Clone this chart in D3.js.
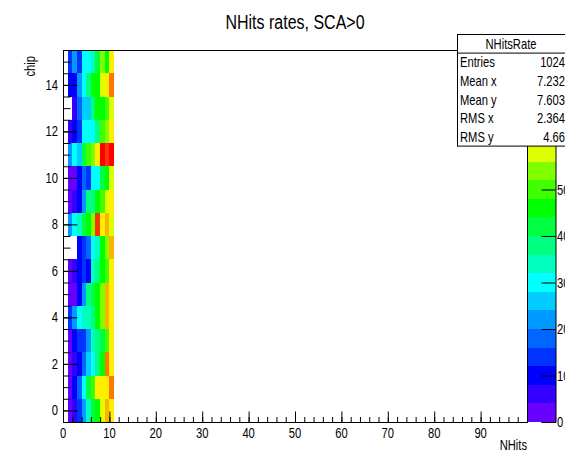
<!DOCTYPE html>
<html><head><meta charset="utf-8">
<script src="https://cdn.jsdelivr.net/npm/d3@7"></script>
<style>body{margin:0;background:#fff}svg{display:block}text{font-family:"Liberation Sans",Arial,sans-serif;fill:#000}</style>
</head><body><svg id="c" width="565" height="452"></svg>
<script>
// ---- data ----
const chips = d3.range(0, 16);              // y categories (chip 0..15)
const nhitsBins = d3.range(1, 11);          // x bins holding data (NHits 1..10)
// rates[chip][bin index] ; 0 = empty bin
const rates = [
  [ 2, 6,14,22,34,42,46,58,66,62],
  [ 2,10,18,30,42,50,62,62,62,70],
  [ 2, 6,10,18,26,30,38,46,70,62],
  [ 2,10,14,14,22,34,38,42,50,62],
  [14,22,30,34,34,38,46,54,66,62],
  [ 2, 2,10,22,38,42,46,54,66,62],
  [ 2, 6,10,14,10,34,38,46,50,62],
  [ 0, 0,10,14,18,30,34,46,54,66],
  [22,30,34,42,46,54,74,62,66,58],
  [ 2, 6,10,22,38,38,46,50,58,62],
  [ 2, 2,10,18,14,30,30,42,46,58],
  [22,30,26,42,50,54,62,78,74,78],
  [ 6,10,14,30,30,30,38,50,54,62],
  [ 0, 6,18,26,26,38,46,46,50,58],
  [10,10,22,30,38,46,46,58,62,70],
  [14,22,14,30,30,34,42,54,46,62]
];
const xTickLabels = [0,10,20,30,40,50,60,70,80,90];
const yTickLabels = [0,2,4,6,8,10,12,14];
const zTicks = [0,10,20,30,40,50,60,70,80];
const zTickLabels = [0,10,20,30,40,50];
const statNames = ["Entries","Mean x","Mean y","RMS x","RMS y"];
const statValues = ["1024","7.232","7.603","2.364","4.66"];
const paletteHues = [264,252,240,228,216,204,192,180,165,150,135,120,105,90,68,56,42,28,12,0];

// ---- layout ----
const svg = d3.select("#c");
const L=63, R=527, T=50, B=422;
const x = d3.scaleLinear([0,100],[L,R]);
const y = d3.scaleLinear([-0.5,15.5],[B,T]);
const zDomain = [0,80];
const palette = paletteHues.map(h => d3.hsl(h,1,0.5).formatHex());
const color = d3.scaleQuantize(zDomain, palette);
const z = d3.scaleLinear(zDomain,[B,T]);
const SX = 0.8;

function txt(g, s, px, py, size, anchor, rot){
  return g.append("text").text(s)
    .attr("transform", `translate(${px},${py})` + (rot?` rotate(${rot})`:"") + ` scale(${SX},1)`)
    .attr("font-size", size).attr("text-anchor", anchor||"start");
}

// cells
const cells = [];
chips.forEach((c,ci)=> nhitsBins.forEach((b,bi)=>{ const v=rates[ci][bi]; if(v>0) cells.push({c,b,v}); }));
svg.append("g").selectAll("rect").data(cells).join("rect")
  .attr("x", d=>x(d.b)).attr("width", d=>x(d.b+1)-x(d.b))
  .attr("y", d=>y(d.c+0.5)).attr("height", d=>y(d.c-0.5)-y(d.c+0.5))
  .attr("fill", d=>color(d.v)).attr("shape-rendering","crispEdges");

// palette
const bands = d3.range(palette.length).map(i=>({lo:i*4, hi:(i+1)*4, col:palette[i]}));
svg.append("g").selectAll("rect").data(bands).join("rect")
  .attr("x",528).attr("width",27.5)
  .attr("y",d=>z(d.hi)).attr("height",d=>z(d.lo)-z(d.hi))
  .attr("fill",d=>d.col).attr("shape-rendering","crispEdges");
const zAxis = d3.axisRight(z).tickValues(zTicks).tickSize(-14).tickFormat("");
const zg = svg.append("g").attr("transform","translate(555.5,0)").call(zAxis);
zg.select(".domain").attr("stroke","#000");
zg.selectAll(".tick line").attr("stroke","#000");
zTickLabels.forEach(v=> txt(svg, v, 557, z(v)+5, 14, "start"));

// frame
svg.append("rect").attr("x",L+0.5).attr("y",T+0.5).attr("width",R-L).attr("height",B-T)
  .attr("fill","none").attr("stroke","#000");

// x axis ticks (inside)
const xMajor = d3.axisBottom(x).tickValues(d3.range(0,101,10)).tickSize(-11).tickFormat("");
const xMinor = d3.axisBottom(x).tickValues(d3.range(0,101,2)).tickSize(-5.5).tickFormat("");
[xMajor,xMinor].forEach(a=>{ const g=svg.append("g").attr("transform",`translate(0,${B+0.5})`).call(a);
  g.select(".domain").remove(); g.selectAll("line").attr("stroke","#000"); });
xTickLabels.forEach(v=> txt(svg, v, x(v), 438, 14, "middle"));

// y axis ticks (inside)
const yMajor = d3.axisLeft(y).tickValues(d3.range(0,15,2)).tickSize(-14).tickFormat("");
const yMinor = d3.axisLeft(y).tickValues(d3.range(-0.5,15.6,0.5)).tickSize(-7).tickFormat("");
[yMajor,yMinor].forEach(a=>{ const g=svg.append("g").attr("transform",`translate(${L+0.5},0)`).call(a);
  g.select(".domain").remove(); g.selectAll("line").attr("stroke","#000"); });
yTickLabels.forEach(v=> txt(svg, v, 58, y(v)+5, 14, "end"));

// axis titles
txt(svg, "NHits", R, 450, 14, "end");
txt(svg, "chip", 35, 56, 14, "end", -90);

// title
txt(svg, "NHits rates, SCA>0", 295, 29, 20, "middle");

// stats box
const sb = svg.append("g");
const bx=457.5, by=34.5, bw=112, rh=18.6;
sb.append("rect").attr("x",bx).attr("y",by).attr("width",bw).attr("height",rh*6)
  .attr("fill","#fff").attr("stroke","#000");
sb.append("line").attr("x1",bx).attr("x2",bx+bw).attr("y1",by+rh).attr("y2",by+rh).attr("stroke","#000");
txt(sb, "NHitsRate", 511, by+rh/2+5, 14, "middle");
statNames.forEach((n,i)=>{
  txt(sb, n, 460, by+rh*(i+1.5)+5, 14, "start");
  txt(sb, statValues[i], 565, by+rh*(i+1.5)+5, 14, "end");
});
</script></body></html>
